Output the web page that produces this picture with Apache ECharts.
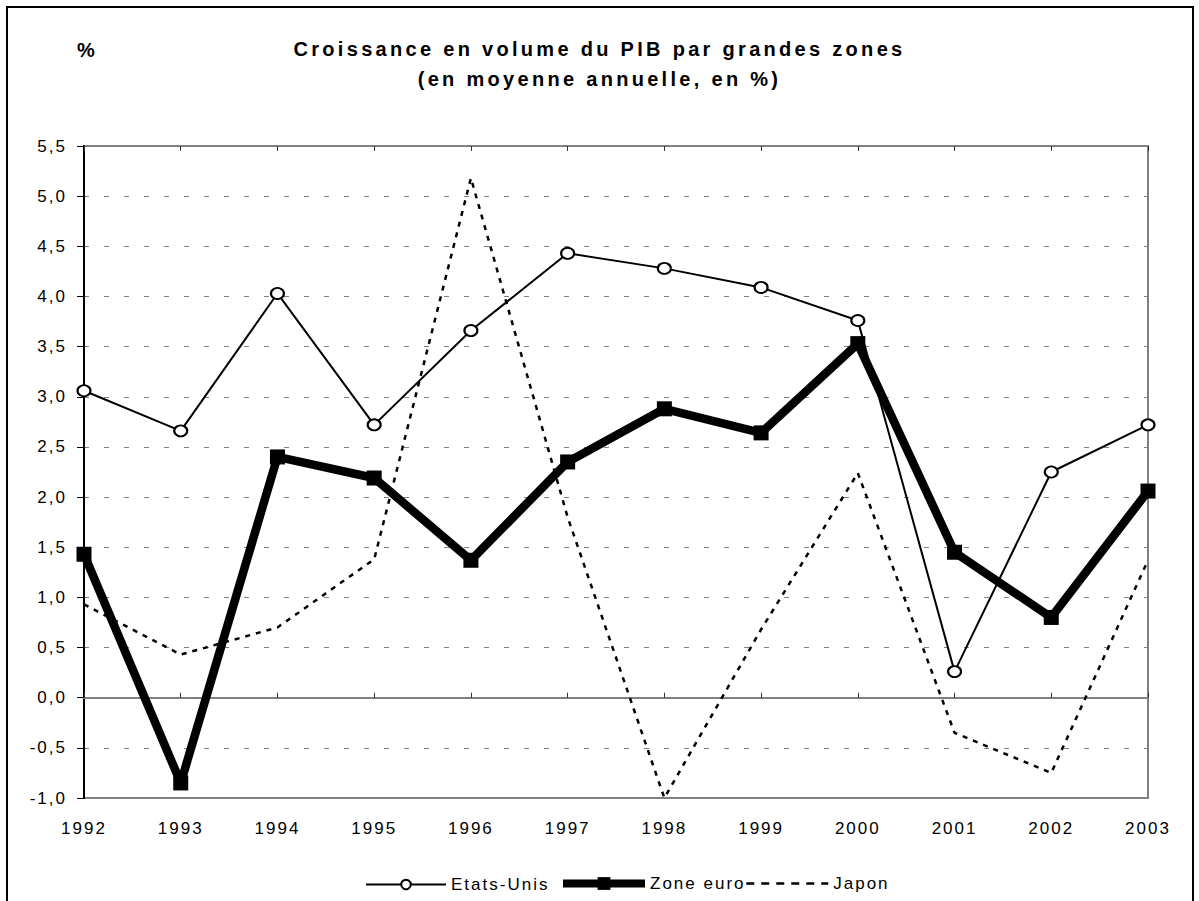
<!DOCTYPE html>
<html lang="fr">
<head>
<meta charset="UTF-8">
<title>Croissance en volume du PIB</title>
<script src="https://cdn.jsdelivr.net/npm/echarts@6.0.0/dist/echarts.min.js"></script>
<style>
  html, body { margin: 0; padding: 0; background: #fff; }
  #chart { width: 1199px; height: 901px; }
  /* lettrage espacé comme dans l'original */
  #chart svg text { letter-spacing: 2px; }
  #chart svg text[style*="bold"] { letter-spacing: 3.3px; }
</style>
</head>
<body>
<div id="chart"></div>
<script>
// données
const years = ['1992', '1993', '1994', '1995', '1996', '1997', '1998', '1999', '2000', '2001', '2002', '2003']
const etatsUnis = [3.06, 2.66, 4.03, 2.72, 3.66, 4.43, 4.28, 4.09, 3.76, 0.26, 2.25, 2.72]
const zoneEuro = [1.43, -0.85, 2.40, 2.19, 1.37, 2.35, 2.88, 2.64, 3.53, 1.45, 0.80, 2.06]
const japon = [0.93, 0.43, 0.70, 1.38, 5.18, 1.80, -1.00, 0.68, 2.24, -0.35, -0.75, 1.37]

const font = 'Liberation Sans'
let chart = echarts.init(document.getElementById('chart'), null, { renderer: 'svg' })

const legendText = { fontFamily: font, fontSize: 17, color: '#000' }

let option = {
  backgroundColor: '#fff',
  animation: false,
  title: [
    {
      text: '%', left: 77, top: 40, padding: 0,
      textStyle: { fontFamily: font, fontSize: 20, fontWeight: 'bold', color: '#000' }
    },
    {
      text: 'Croissance en volume du PIB par grandes zones\n(en moyenne annuelle, en %)',
      left: 'center', top: 34, padding: 0,
      textStyle: { fontFamily: font, fontSize: 20, fontWeight: 'bold', color: '#000', lineHeight: 30 }
    }
  ],
  graphic: [
    // cadre extérieur
    {
      type: 'rect', silent: true, z: -1,
      shape: { x: 7, y: 7, width: 1186, height: 1000 },
      style: { fill: 'none', stroke: '#000', lineWidth: 2 }
    }
  ],
  legend: [
    {
      data: ['Etats-Unis'], left: 365, top: 876, padding: 0, itemWidth: 80, itemHeight: 12,
      textStyle: legendText, lineStyle: { width: 2 }
    },
    {
      data: ['Zone euro'], left: 559, top: 875, padding: 0, itemWidth: 82, itemHeight: 16,
      textStyle: legendText, lineStyle: { width: 8 }
    },
    {
      data: ['Japon'], left: 745, top: 875, padding: 0, itemWidth: 82, itemHeight: 14,
      textStyle: legendText, lineStyle: { width: 2.5, type: [8, 7] },
      itemStyle: { color: 'transparent', borderColor: 'transparent' }
    }
  ],
  grid: {
    left: 84, right: 51, top: 146, bottom: 103,
    show: true, borderColor: '#808080', borderWidth: 2
  },
  xAxis: [
    {
      // étiquettes en bas du graphique
      type: 'category', data: years, boundaryGap: false,
      axisLine: { show: false, onZero: false },
      axisTick: { show: false },
      axisLabel: { interval: 0, margin: 22, fontFamily: font, fontSize: 17, color: '#000' },
      splitLine: { show: false }
    },
    {
      // axe sur le zéro, graduations vers le bas
      type: 'category', data: years, boundaryGap: false,
      axisLine: { onZero: true, lineStyle: { color: '#808080', width: 2 } },
      axisTick: { show: true, interval: 0, length: 5, lineStyle: { color: '#333', width: 1 } },
      axisLabel: { show: false }
    },
    {
      // graduations vers le haut
      type: 'category', data: years, boundaryGap: false,
      axisLine: { show: false, onZero: true },
      axisTick: { show: true, interval: 0, inside: true, length: 5, lineStyle: { color: '#333', width: 1 } },
      axisLabel: { show: false }
    }
  ],
  yAxis: {
    type: 'value', min: -1, max: 5.5, interval: 0.5,
    axisLine: { show: true, lineStyle: { color: '#000', width: 2 } },
    axisTick: { show: true, length: 7, lineStyle: { color: '#000', width: 1 } },
    axisLabel: {
      margin: 17, fontFamily: font, fontSize: 17, color: '#000',
      formatter: v => v.toFixed(1).replace('.', ',')
    },
    splitLine: { lineStyle: { color: '#808080', width: 1.2, type: [5, 15] } }
  },
  series: [
    {
      name: 'Etats-Unis', type: 'line', data: etatsUnis, z: 3,
      symbol: 'circle', symbolSize: [13, 11], showAllSymbol: true,
      lineStyle: { color: '#000', width: 2 },
      itemStyle: { color: '#fff', borderColor: '#000', borderWidth: 2 }
    },
    {
      name: 'Zone euro', type: 'line', data: zoneEuro, z: 4,
      symbol: 'rect', symbolSize: 15, showAllSymbol: true,
      lineStyle: { color: '#000', width: 8.5 },
      itemStyle: { color: '#000' }
    },
    {
      name: 'Japon', type: 'line', data: japon, z: 5,
      symbol: 'none',
      lineStyle: { color: '#000', width: 2.5, type: [5, 6] },
      itemStyle: { color: '#000' }
    }
  ]
}

chart.setOption(option)
</script>
</body>
</html>
